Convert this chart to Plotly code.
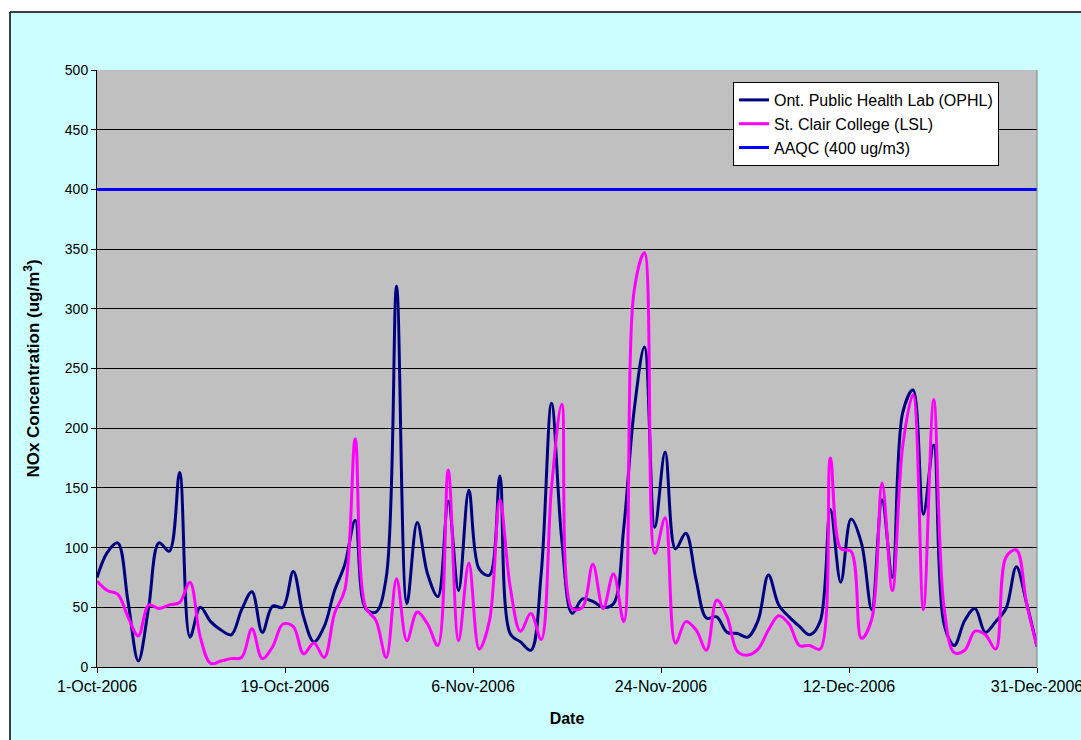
import datetime as dt
import plotly.graph_objects as go

# ---------------- data ----------------
start = dt.date(2006, 10, 1)
dates = [start + dt.timedelta(days=i) for i in range(92)]

ophl = [75, 96, 104, 55, 5, 50, 104, 97, 163, 25,
        50, 38, 31, 27, 48, 63, 29, 51, 50, 80,
        42, 21, 34, 64, 86, 123, 49, 46, 75, 319,
        53, 121, 78, 59, 139, 64, 148, 82, 77, 160,
        28, 21, 14, 78, 221, 106, 45, 57, 55, 50,
        53, 117, 215, 268, 117, 180, 99, 112, 73, 41,
        42, 29, 28, 25, 39, 77, 52, 42, 34, 27,
        38, 132, 71, 124, 104, 48, 140, 75, 213, 232,
        128, 186, 36, 18, 39, 49, 29, 38, 49, 84,
        53, 17]

lsl = [72, 64, 61, 42, 26, 52, 49, 52, 54, 71,
       25, 3, 5, 7, 8, 32, 7, 17, 36, 34,
       11, 20, 8, 45, 65, 191, 50, 39, 8, 74,
       22, 46, 36, 18, 165, 22, 87, 15, 39, 140,
       67, 30, 45, 23, 150, 220, 49, 50, 86, 49,
       78, 38, 315, 347, 95, 125, 20, 38, 31, 14,
       56, 42, 13, 10, 15, 31, 43, 36, 18, 18,
       15, 175, 99, 97, 24, 40, 154, 64, 185, 228,
       48, 224, 50, 12, 14, 30, 27, 15, 92, 98,
       53, 17]

aaqc_value = 400
aaqc = [aaqc_value] * len(dates)

series_names = ["Ont. Public Health Lab (OPHL)", "St. Clair College (LSL)", "AAQC (400 ug/m3)"]
tick_text = ["1-Oct-2006", "19-Oct-2006", "6-Nov-2006", "24-Nov-2006", "12-Dec-2006", "31-Dec-2006"]
tick_step_days = 18.2
y_ticks = list(range(0, 501, 50))

# ---------------- figure ----------------
base = dt.datetime(2006, 10, 1)
tick_vals = [base + dt.timedelta(days=tick_step_days * k) for k in range(len(tick_text) - 1)]
tick_vals.append(dt.datetime(2006, 12, 31))

FONT = "Liberation Sans, Arial, sans-serif"

fig = go.Figure()
fig.add_trace(go.Scatter(x=dates, y=ophl, name=series_names[0], mode="lines",
                         line=dict(color="#000080", width=3, shape="spline", smoothing=1.0)))
fig.add_trace(go.Scatter(x=dates, y=lsl, name=series_names[1], mode="lines",
                         line=dict(color="#FF00FF", width=3, shape="spline", smoothing=1.0)))
fig.add_trace(go.Scatter(x=dates, y=aaqc, name=series_names[2], mode="lines",
                         line=dict(color="#0000FF", width=3)))

W, H = 1081, 740
L, R, T, B = 97, 44, 70, 73
pw, ph = W - L - R, H - T - B

def px_x(p):
    return (p - L) / pw

def px_y(p):
    return (H - B - p) / ph

shapes = [
    dict(type="rect", xref="paper", yref="paper", x0=px_x(-5), x1=px_x(10), y0=px_y(H + 5), y1=px_y(-5),
         fillcolor="white", line=dict(width=0), layer="above"),
    dict(type="rect", xref="paper", yref="paper", x0=px_x(-5), x1=px_x(W + 5), y0=px_y(12), y1=px_y(-5),
         fillcolor="white", line=dict(width=0), layer="above"),
    dict(type="line", xref="paper", yref="paper", x0=px_x(10), x1=px_x(W + 5), y0=px_y(12), y1=px_y(12),
         line=dict(color="black", width=1.5), layer="above"),
    dict(type="line", xref="paper", yref="paper", x0=px_x(10), x1=px_x(10), y0=px_y(12), y1=px_y(H + 5),
         line=dict(color="black", width=1.5), layer="above"),
    dict(type="line", xref="paper", yref="paper", x0=1, x1=1, y0=0, y1=1,
         line=dict(color="#808080", width=1), layer="above"),
]

fig.update_layout(
    width=W, height=H,
    margin=dict(l=L, r=R, t=T, b=B, pad=0),
    paper_bgcolor="#CCFFFF",
    plot_bgcolor="#C0C0C0",
    font=dict(family=FONT, color="black", size=14),
    shapes=shapes,
    showlegend=True,
    legend=dict(x=px_x(733), y=px_y(82), xanchor="left", yanchor="top",
                bgcolor="white", bordercolor="black", borderwidth=1,
                font=dict(family=FONT, size=16, color="black"),
                tracegroupgap=0, itemwidth=30),
)

fig.update_xaxes(
    type="date",
    range=[dt.datetime(2006, 10, 1), dt.datetime(2006, 12, 31)],
    tickmode="array", tickvals=tick_vals, ticktext=tick_text,
    ticks="outside", ticklen=5, tickcolor="black", tickwidth=1,
    tickfont=dict(family=FONT, size=16, color="black"),
    ticklabeloverflow="allow",
    showgrid=False, zeroline=False,
    showline=True, linecolor="black", linewidth=1,
    automargin=False,
    title=dict(text="<b>Date</b>", font=dict(family=FONT, size=16, color="black"), standoff=18),
)

fig.update_yaxes(
    range=[0, 500],
    tickmode="array", tickvals=y_ticks, ticktext=[str(v) for v in y_ticks],
    ticks="outside", ticklen=5, tickcolor="black", tickwidth=1,
    tickfont=dict(family=FONT, size=14, color="black"),
    showgrid=True, gridcolor="black", gridwidth=1,
    zeroline=False,
    showline=True, linecolor="black", linewidth=1,
    automargin=False,
    title=dict(text="<b>NOx Concentration (ug/m<sup>3</sup>)</b>",
               font=dict(family=FONT, size=17, color="black"), standoff=20),
)

fig.write_html("out.html",
               config={"displayModeBar": False},
               post_script="document.body.style.margin='0';document.body.style.overflow='hidden';")
